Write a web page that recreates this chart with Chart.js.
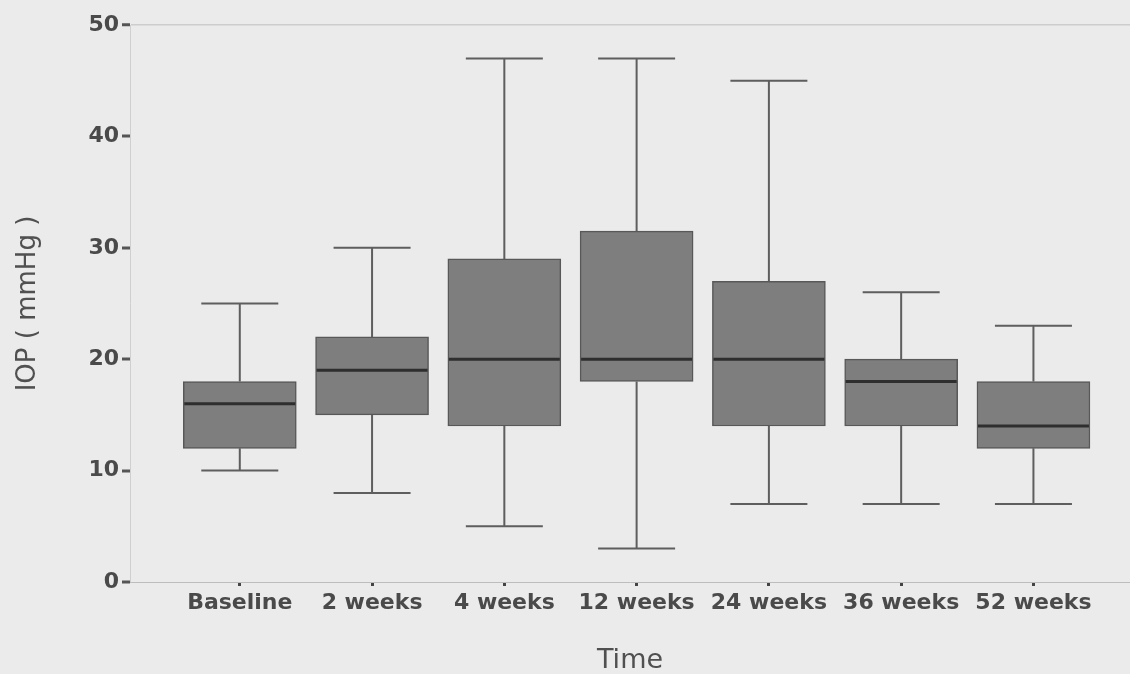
<!DOCTYPE html>
<html>
<head>
<meta charset="utf-8">
<script src="https://cdn.jsdelivr.net/npm/chart.js@4.4.1/dist/chart.umd.min.js"></script>
<style>
  html, body { margin: 0; padding: 0; background: #ebebeb; }
  #wrap { width: 1130px; height: 674px; }
</style>
</head>
<body>
<div id="wrap"><canvas id="myCanvas"></canvas></div>
<script>
// IOP box plot
const labels = ["Baseline", "2 weeks", "4 weeks", "12 weeks", "24 weeks", "36 weeks", "52 weeks"];
const whiskerLow = [10, 8, 5, 3, 7, 7, 7];
const q1 = [12, 15, 14, 18, 14, 14, 12];
const median = [16, 19, 20, 20, 20, 18, 14];
const q3 = [18, 22, 29, 31.5, 27, 20, 18];
const whiskerHigh = [25, 30, 47, 47, 45, 26, 23];
const yTicks = [0, 10, 20, 30, 40, 50];

const capWidth = 77;

// whiskers + medians drawn around the floating bars
const boxLines = {
    id: "boxLines",
    beforeDatasetsDraw(chart) {
        const { ctx, scales: { x, y } } = chart;
        ctx.save();
        ctx.strokeStyle = "#5e5e5e";
        ctx.lineWidth = 2;
        labels.forEach((l, i) => {
            const px = x.getPixelForValue(i + 1);
            const lo = y.getPixelForValue(whiskerLow[i]);
            const hi = y.getPixelForValue(whiskerHigh[i]);
            ctx.beginPath();
            ctx.moveTo(px, hi);
            ctx.lineTo(px, y.getPixelForValue(q3[i]));
            ctx.moveTo(px, y.getPixelForValue(q1[i]));
            ctx.lineTo(px, lo);
            ctx.moveTo(px - capWidth / 2, hi);
            ctx.lineTo(px + capWidth / 2, hi);
            ctx.moveTo(px - capWidth / 2, lo);
            ctx.lineTo(px + capWidth / 2, lo);
            ctx.stroke();
        });
        ctx.restore();
    },
    afterDatasetsDraw(chart) {
        const { ctx, scales: { y } } = chart;
        const meta = chart.getDatasetMeta(0);
        ctx.save();
        ctx.strokeStyle = "#2e2e2e";
        ctx.lineWidth = 3;
        meta.data.forEach((bar, i) => {
            const half = bar.width / 2 - 1;
            const py = y.getPixelForValue(median[i]);
            ctx.beginPath();
            ctx.moveTo(bar.x - half, py);
            ctx.lineTo(bar.x + half, py);
            ctx.stroke();
        });
        ctx.restore();
    },
};

const data = {
    datasets: [
        {
            label: "IOP",
            data: labels.map((l, i) => ({ x: i + 1, y: [q1[i], q3[i]] })),
            backgroundColor: "#7e7e7e",
            borderColor: "#585858",
            borderWidth: 1.5,
            borderSkipped: false,
            barThickness: 113,
        },
    ],
};

new Chart(document.getElementById("myCanvas"), {
    type: "bar",
    data,
    plugins: [boxLines],
    options: {
        responsive: true,
        maintainAspectRatio: false,
        animation: false,
        layout: { padding: { top: 25, right: 0, bottom: 0, left: 0 } },
        plugins: {
            legend: { display: false },
            tooltip: { enabled: false },
        },
        scales: {
            x: {
                type: "linear",
                offset: false,
                min: 0.17,
                max: 7.73,
                afterFit(scale) { scale.height = 92; },
                afterBuildTicks(scale) {
                    scale.ticks = labels.map((l, i) => ({ value: i + 1 }));
                },
                border: { display: true, color: "#bdbdbd", width: 1 },
                grid: {
                    offset: false,
                    drawOnChartArea: false,
                    drawTicks: true,
                    tickLength: 4,
                    tickWidth: 3,
                    tickColor: "#444",
                },
                ticks: {
                    color: "#4a4a4a",
                    padding: 4,
                    maxRotation: 0,
                    autoSkip: false,
                    font: { family: "'DejaVu Sans', sans-serif", size: 22, weight: "bold" },
                    callback: (v) => labels[v - 1],
                },
                title: {
                    display: true,
                    text: "Time",
                    color: "#505050",
                    padding: { top: 0, bottom: 0 },
                    font: { family: "'DejaVu Sans', sans-serif", size: 27, lineHeight: 1 },
                },
            },
            y: {
                min: 0,
                max: 50,
                afterFit(scale) { scale.width = 130; },
                afterBuildTicks(scale) {
                    scale.ticks = yTicks.map((v) => ({ value: v }));
                },
                border: { display: true, color: "#cfcfcf", width: 1 },
                grid: {
                    drawOnChartArea: true,
                    drawTicks: true,
                    tickLength: 8,
                    tickWidth: 3,
                    tickColor: "#555",
                    color: "#cdcdcd",
                    lineWidth: (c) => (c.tick && c.tick.value === 50 ? 1.5 : 0),
                },
                ticks: {
                    color: "#4a4a4a",
                    padding: 3,
                    font: { family: "'DejaVu Sans', sans-serif", size: 22, weight: "bold" },
                },
                title: {
                    display: true,
                    text: "IOP ( mmHg )",
                    color: "#505050",
                    padding: { top: 15, bottom: 0 },
                    font: { family: "'DejaVu Sans', sans-serif", size: 26, lineHeight: 1 },
                },
            },
        },
    },
});
</script>
</body>
</html>
